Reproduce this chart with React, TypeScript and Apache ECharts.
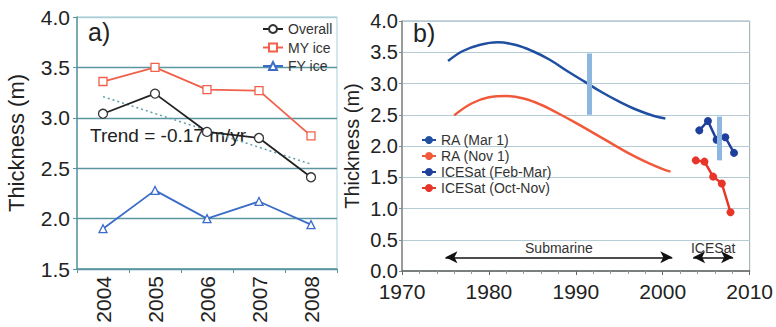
import React, { useEffect, useRef } from "react";
import * as echarts from "echarts";

// Panel a
const yearsA = ["2004", "2005", "2006", "2007", "2008"];
const overall = [3.04, 3.24, 2.86, 2.8, 2.41];
const myIce = [3.36, 3.5, 3.28, 3.27, 2.82];
const fyIce = [1.9, 2.28, 2.0, 2.17, 1.94];
const trendA = [3.21, null, null, null, 2.54];
const trendLabel = "Trend = -0.17 m/yr";

// Panel b
const raMar: [number, number][] = [
  [1975.3, 3.36], [1977, 3.52], [1979, 3.62], [1981, 3.66], [1983, 3.62], [1985, 3.52],
  [1987, 3.38], [1989, 3.2], [1991, 3.03], [1993, 2.86], [1995, 2.71], [1997, 2.58],
  [1999, 2.48], [2000.3, 2.44],
];
const raNov: [number, number][] = [
  [1976, 2.49], [1978, 2.68], [1980, 2.78], [1982, 2.8], [1984, 2.76], [1986, 2.66],
  [1988, 2.52], [1990, 2.37], [1992, 2.21], [1994, 2.05], [1996, 1.89], [1998, 1.75],
  [2000, 1.63], [2000.9, 1.59],
];
const icesatFebMar: [number, number][] = [
  [2004.2, 2.25], [2005.2, 2.4], [2006.2, 2.1], [2007.2, 2.14], [2008.2, 1.89],
];
const icesatOctNov: [number, number][] = [
  [2003.8, 1.77], [2004.8, 1.75], [2005.8, 1.51], [2006.8, 1.4], [2007.8, 0.94],
];
const barSub = { x: 1991.6, lo: 2.5, hi: 3.48 };
const barIce = { x: 2006.5, lo: 1.77, hi: 2.47 };
const submarineSpan = [1975, 2001.1];
const icesatSpan = [2003.5, 2008.1];
const arrowLevel = 0.22;

const FONT = "'Liberation Sans', Arial, sans-serif";
const NARROW = "'Liberation Sans', Arial, sans-serif";

export default function App() {
  const ref = useRef<HTMLDivElement>(null);
  useEffect(() => {
    if (!ref.current) return;
    const chart = echarts.init(ref.current, null, { renderer: "svg", width: 776, height: 327 });
    const teal = "#5b96a0";
    const tealLight = "#aacfd6";
    const option: any = {
      animation: false,
      backgroundColor: "#ffffff",
      grid: [
        { left: 77, top: 17, width: 260, height: 252, show: true, borderColor: tealLight, borderWidth: 1 },
        { left: 402, top: 21, width: 353, height: 250, show: true, borderColor: "#9aa", borderWidth: 1 },
      ],
      legend: [
        {
          data: ["Overall", "MY ice", "FY ice"],
          orient: "vertical",
          left: 262,
          top: 22,
          padding: 0,
          itemWidth: 20,
          itemHeight: 10,
          itemGap: 4.5,
          textStyle: { fontFamily: NARROW, fontSize: 14, lineHeight: 14, color: "#333" },
        },
        {
          data: ["RA (Mar 1)", "RA (Nov 1)", "ICESat (Feb-Mar)", "ICESat (Oct-Nov)"],
          orient: "vertical",
          left: 421,
          top: 133,
          padding: 0,
          itemWidth: 14,
          itemHeight: 10,
          itemGap: 2,
          textStyle: { fontFamily: NARROW, fontSize: 14, lineHeight: 14, color: "#333" },
        },
      ],
      xAxis: [
        {
          type: "category",
          gridIndex: 0,
          data: yearsA,
          boundaryGap: true,
          axisLine: { lineStyle: { color: teal, width: 1.5 } },
          axisTick: { show: true, length: 4, lineStyle: { color: teal } },
          axisLabel: { rotate: 90, fontFamily: FONT, fontSize: 21, color: "#222", margin: 7 },
        },
        {
          type: "value",
          gridIndex: 1,
          min: 1970,
          max: 2010,
          interval: 10,
          axisLine: { lineStyle: { color: "#666", width: 1.5 } },
          axisTick: { show: true, length: 4, lineStyle: { color: "#666" } },
          minorTick: { show: true, splitNumber: 5, length: 3, lineStyle: { color: "#999" } },
          splitLine: { show: false },
          axisLabel: { fontFamily: FONT, fontSize: 21, lineHeight: 16, color: "#222", margin: 12, formatter: (v: number) => String(v) },
        },
      ],
      yAxis: [
        {
          type: "value",
          gridIndex: 0,
          min: 1.5,
          max: 4.0,
          interval: 0.5,
          name: "Thickness (m)",
          nameLocation: "middle",
          nameGap: 50,
          nameTextStyle: { fontFamily: FONT, fontSize: 22, color: "#222" },
          axisLine: { show: true, lineStyle: { color: teal, width: 1.5 } },
          axisTick: { show: true, length: 4, lineStyle: { color: teal } },
          splitLine: { show: true, lineStyle: { color: [teal, teal, teal, teal, teal, tealLight], width: 1.3 } },
          axisLabel: { fontFamily: FONT, fontSize: 21, color: "#222", margin: 7, formatter: (v: number) => v.toFixed(1) },
        },
        {
          type: "value",
          gridIndex: 1,
          min: 0,
          max: 4.0,
          interval: 0.5,
          name: "Thickness (m)",
          nameLocation: "middle",
          nameGap: 40,
          nameTextStyle: { fontFamily: FONT, fontSize: 20, color: "#222" },
          axisLine: { show: true, lineStyle: { color: "#888", width: 1.5 } },
          axisTick: { show: true, length: 3, lineStyle: { color: "#888" } },
          splitLine: { show: true, lineStyle: { color: "#b4ccd6", width: 1.2 } },
          axisLabel: { fontFamily: FONT, fontSize: 20, lineHeight: 16, color: "#222", margin: 4, formatter: (v: number) => v.toFixed(1) },
        },
      ],
      series: [
        {
          name: "Trend",
          type: "line",
          xAxisIndex: 0,
          yAxisIndex: 0,
          data: trendA,
          connectNulls: true,
          symbol: "none",
          lineStyle: { color: "#5f9ea8", width: 1.5, type: [2, 3] },
          z: 1,
        },
        {
          name: "Overall",
          type: "line",
          xAxisIndex: 0,
          yAxisIndex: 0,
          data: overall,
          symbol: "circle",
          symbolSize: 9,
          itemStyle: { color: "#fff", borderColor: "#333", borderWidth: 1.3 },
          lineStyle: { color: "#222", width: 1.8 },
          color: "#333",
        },
        {
          name: "MY ice",
          type: "line",
          xAxisIndex: 0,
          yAxisIndex: 0,
          data: myIce,
          symbol: "rect",
          symbolSize: 8,
          itemStyle: { color: "#fff", borderColor: "#f0604a", borderWidth: 1.3 },
          lineStyle: { color: "#f0604a", width: 1.8 },
          color: "#f0604a",
        },
        {
          name: "FY ice",
          type: "line",
          xAxisIndex: 0,
          yAxisIndex: 0,
          data: fyIce,
          symbol: "triangle",
          symbolSize: 8,
          itemStyle: { color: "#fff", borderColor: "#3a6cc8", borderWidth: 1.3 },
          lineStyle: { color: "#3a6cc8", width: 1.8 },
          color: "#3a6cc8",
        },
        {
          name: "RA (Mar 1)",
          type: "line",
          xAxisIndex: 1,
          yAxisIndex: 1,
          data: raMar,
          smooth: 0.4,
          symbol: "none",
          color: "#1f4fa0",
          lineStyle: { color: "#1f4fa0", width: 2.5 },
          markLine: {
            silent: true,
            symbol: ["none", "none"],
            label: { show: false },
            lineStyle: { color: "#8db6e0", width: 5, type: "solid" },
            data: [
              [{ coord: [barSub.x, barSub.lo] }, { coord: [barSub.x, barSub.hi] }],
              [{ coord: [barIce.x, barIce.lo] }, { coord: [barIce.x, barIce.hi] }],
            ],
          },
        },
        {
          name: "RA (Nov 1)",
          type: "line",
          xAxisIndex: 1,
          yAxisIndex: 1,
          data: raNov,
          smooth: 0.4,
          symbol: "none",
          color: "#f05a3a",
          lineStyle: { color: "#f05a3a", width: 2.5 },
        },
        {
          name: "ICESat (Feb-Mar)",
          type: "line",
          xAxisIndex: 1,
          yAxisIndex: 1,
          data: icesatFebMar,
          symbol: "circle",
          symbolSize: 8,
          color: "#1f3f9c",
          itemStyle: { color: "#1f3f9c" },
          lineStyle: { color: "#1f3f9c", width: 2.5 },
          z: 3,
        },
        {
          name: "ICESat (Oct-Nov)",
          type: "line",
          xAxisIndex: 1,
          yAxisIndex: 1,
          data: icesatOctNov,
          symbol: "circle",
          symbolSize: 8,
          color: "#e8352a",
          itemStyle: { color: "#e8352a" },
          lineStyle: { color: "#e8352a", width: 2.5 },
          markLine: {
            silent: true,
            symbol: ["arrow", "arrow"],
            symbolSize: [9, 12],
            lineStyle: { color: "#111", width: 1.5, type: "solid" },
            label: {
              show: true,
              position: "middle",
              fontFamily: NARROW,
              fontSize: 14,
              color: "#333",
              distance: 2,
            },
            data: [
              [
                { coord: [submarineSpan[0], arrowLevel], name: "Submarine" },
                { coord: [submarineSpan[1], arrowLevel] },
              ],
              [
                { coord: [icesatSpan[0], arrowLevel], name: "ICESat" },
                { coord: [icesatSpan[1], arrowLevel] },
              ],
            ],
          },
        },
      ],
      graphic: [
        { type: "text", left: 88, top: 19, style: { text: "a)", fontFamily: FONT, fontSize: 25, fill: "#222" } },
        { type: "text", left: 413, top: 20, style: { text: "b)", fontFamily: FONT, fontSize: 25, fill: "#222" } },
        { type: "text", left: 90, top: 126, style: { text: trendLabel, fontFamily: FONT, fontSize: 19, fill: "#222" } },
      ],
    };
    chart.setOption(option);
    return () => chart.dispose();
  }, []);
  return (
    <div
      ref={ref}
      style={{ position: "absolute", left: 0, top: 0, width: 776, height: 327 }}
    />
  );
}
